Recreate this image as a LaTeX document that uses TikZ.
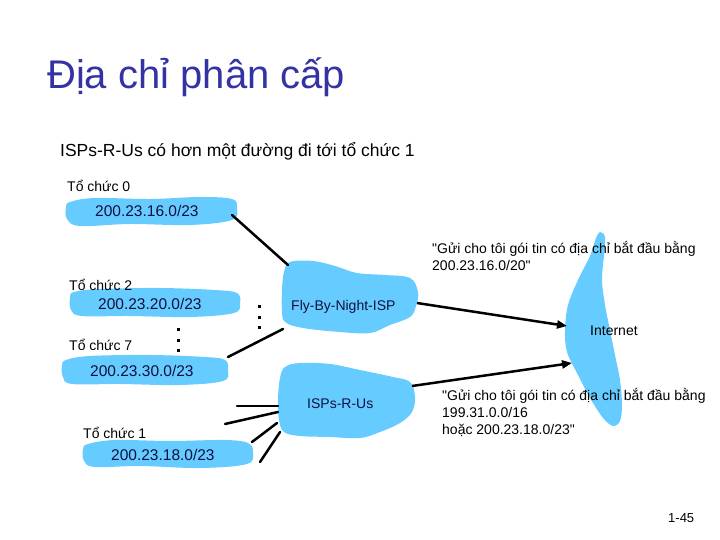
\documentclass[tikz,border=0pt]{standalone}
\usepackage{fontspec}
\setmainfont{Liberation Sans}[Ligatures=TeXOff]
\usetikzlibrary{arrows.meta}
\definecolor{cloudblue}{HTML}{66CCFF}
\definecolor{titleblue}{HTML}{3333A3}
\definecolor{cloudtext}{HTML}{101040}
\tikzset{
  blob/.style={fill=cloudblue, draw=none},
  lbl/.style={anchor=base west, inner sep=0pt, font=\fontsize{14}{17}\selectfont},
  ctext/.style={lbl, text=cloudtext},
  iptext/.style={anchor=base west, inner sep=0pt, font=\fontsize{15.5}{18}\selectfont, text=cloudtext},
  link/.style={line width=2.5pt, line cap=round},
  arr/.style={line width=2.5pt, -{Triangle[length=10pt,width=8pt]}},
  dot/.style={fill=black, minimum size=3pt, inner sep=0pt}
}
\begin{document}
\begin{tikzpicture}[x=1pt,y=-1pt]
\useasboundingbox (0,0) rectangle (720,540);
% title
\node[anchor=base west, inner sep=0pt, text=titleblue, font=\fontsize{40}{46}\selectfont] (title) at (47,89) {Địa chỉ phân cấp};
\node[anchor=base west, inner sep=0pt, font=\fontsize{17.5}{21}\selectfont] (sub) at (60,157) {ISPs-R-Us có hơn một đường đi tới tổ chức 1};

% small clouds
\fill[blob] plot[smooth cycle, tension=0.6] coordinates {(70,202) (95,198) (150,199) (200,197) (232,199) (237,208) (232,220) (190,225) (130,224) (80,226) (67,219) (66,208)};
\fill[blob] plot[smooth cycle, tension=0.6] coordinates {(74,292) (100,289) (160,288) (215,290) (237,293) (240,303) (234,313) (190,317) (130,316) (82,316) (71,310) (70,298)};
\fill[blob] plot[smooth cycle, tension=0.6] coordinates {(66,360) (90,356) (150,355) (205,357) (225,360) (228,370) (223,381) (180,385) (120,384) (72,384) (63,377) (62,366)};
\fill[blob] plot[smooth cycle, tension=0.6] coordinates {(88,444) (115,440) (170,441) (225,440) (248,443) (253,452) (247,464) (200,468) (140,466) (95,467) (84,461) (83,449)};

% ISP clouds
\fill[blob] plot[smooth cycle, tension=0.6] coordinates {(290,262) (313,261) (335,266) (357,273) (385,275) (410,278) (418,292) (416,306) (410,317) (390,325) (370,333) (340,332) (303,328) (285,322) (282,310) (282,290) (284,272)};
\fill[blob] plot[smooth cycle, tension=0.6] coordinates {(285,367) (300,363) (330,364) (360,370) (393,377) (410,382) (415,397) (412,412) (400,423) (380,432) (360,438) (330,437) (300,436) (284,432) (279,420) (278,400) (280,378)};

% Internet
\fill[blob] plot[smooth cycle, tension=0.55] coordinates {(600,232) (605,237) (604,255) (602,280) (605,305) (610,330) (615,355) (620,380) (622,405) (620,421) (613,426) (603,418) (590,398) (578,375) (567,352) (565,330) (568,305) (578,280) (590,256) (596,238)};

% labels
\node[lbl] (t0) at (67,192) {Tổ chức 0};
\node[iptext] (ip0) at (95,217) {200.23.16.0/23};
\node[lbl] (t2) at (69,290) {Tổ chức 2};
\node[iptext] (ip2) at (98,309) {200.23.20.0/23};
\node[lbl] (t7) at (69,350) {Tổ chức 7};
\node[iptext] (ip7) at (90,376) {200.23.30.0/23};
\node[lbl] (t1) at (83,438) {Tổ chức 1};
\node[iptext] (ip1) at (111,460) {200.23.18.0/23};
\node[ctext] (fbn) at (291,310) {Fly-By-Night-ISP};
\node[ctext] (isp) at (307,408) {ISPs-R-Us};
\node[lbl] (inet) at (590,335) {Internet};

\node[lbl, align=left, anchor=north west, font=\fontsize{14}{17}\selectfont] (q1) at (432,241) {"Gửi cho tôi gói tin có địa chỉ bắt đầu bằng\\200.23.16.0/20"};
\node[lbl, align=left, anchor=north west, font=\fontsize{14}{17}\selectfont] (q2) at (442,388) {"Gửi cho tôi gói tin có địa chỉ bắt đầu bằng\\199.31.0.0/16\\hoặc 200.23.18.0/23"};

\node[anchor=base west, inner sep=0pt, font=\fontsize{13}{15}\selectfont] (pg) at (668,522) {1-45};

% dots
\node[dot] (d1) at (178,329) {};
\node[dot] (d2) at (178,340) {};
\node[dot] (d3) at (178,350) {};
\node[dot] (e1) at (259,306) {};
\node[dot] (e2) at (259,317) {};
\node[dot] (e3) at (259,327) {};

% connector end points
\coordinate (c0e) at (232,215);
\coordinate (fbnA) at (288,265);
\coordinate (c7e) at (228,357);
\coordinate (fbnB) at (283,329);
\coordinate (fbnR) at (417,303);
\coordinate (inA) at (567,326);
\coordinate (ispR) at (412,386);
\coordinate (inB) at (572,363);
\coordinate (l1a) at (237,406); \coordinate (l1b) at (278,406);
\coordinate (l2a) at (225,424); \coordinate (l2b) at (278,412);
\coordinate (l3a) at (252,442); \coordinate (l3b) at (277,423);
\coordinate (l4a) at (260,462); \coordinate (l4b) at (280,432);

\draw[link] (c0e) -- (fbnA);
\draw[link] (c7e) -- (fbnB);
\draw[arr] (fbnR) -- (inA);
\draw[arr] (ispR) -- (inB);
\draw[link] (l1a) -- (l1b);
\draw[link] (l2a) -- (l2b);
\draw[link] (l3a) -- (l3b);
\draw[link] (l4a) -- (l4b);
\end{tikzpicture}
\end{document}
